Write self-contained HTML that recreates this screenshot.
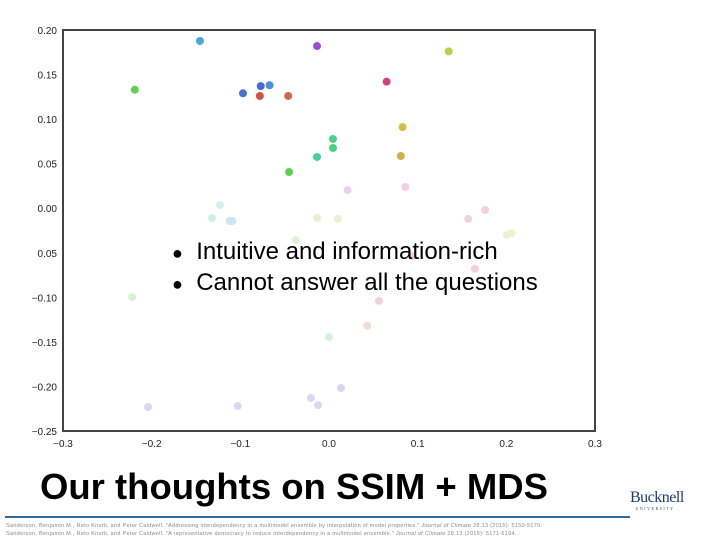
<!DOCTYPE html>
<html><head><meta charset="utf-8"><style>
body{margin:0;width:720px;height:540px;background:#fff;overflow:hidden;font-family:"Liberation Sans",sans-serif;position:relative}
.ref{position:absolute;left:6px;font-size:5.5px;color:#888;white-space:nowrap;letter-spacing:0.3px}
</style></head><body>
<svg id="chart" width="720" height="460" style="position:absolute;left:0;top:0" font-family="Liberation Sans, sans-serif"></svg>
<div style="position:absolute;left:172px;top:237px;font-size:24px;color:#000;line-height:29px;white-space:nowrap">
<div><span style="font-size:18px">●</span>&nbsp; Intuitive and information-rich</div>
<div><span style="font-size:18px">●</span>&nbsp; Cannot answer all the questions</div>
</div>
<div style="position:absolute;left:40px;top:466px;font-size:36.5px;font-weight:bold;color:#000;white-space:nowrap">Our thoughts on SSIM + MDS</div>
<div style="position:absolute;left:5px;top:516px;width:625px;height:2px;background:#2e6aa1"></div>
<div style="position:absolute;left:630px;top:490px;width:50px;text-align:center;color:#1d3c73;font-family:'Liberation Serif',serif">
<div style="font-size:16px;line-height:16px;letter-spacing:-0.5px">Bucknell</div><div style="font-size:4px;letter-spacing:1.5px">UNIVERSITY</div></div>
<div class="ref" style="top:523px">Sanderson, Benjamin M., Reto Knutti, and Peter Caldwell. "Addressing interdependency in a multimodel ensemble by interpolation of model properties." <i>Journal of Climate</i> 28.13 (2015): 5150-5170.</div>
<div class="ref" style="top:531px">Sanderson, Benjamin M., Reto Knutti, and Peter Caldwell. "A representative democracy to reduce interdependency in a multimodel ensemble." <i>Journal of Climate</i> 28.13 (2015): 5171-5194.</div>
<script>
const xVals=[-0.1455,-0.0135,0.135,-0.219,0.065,-0.097,-0.077,-0.067,-0.078,-0.046,0.0045,0.0045,-0.0135,-0.045,0.083,0.081,0.021,0.086,-0.123,-0.132,-0.112,-0.109,-0.0135,0.010,0.157,0.176,0.2007,0.206,-0.0373,0.094,0.1646,-0.222,0.0564,0.043,0.0,-0.204,-0.103,-0.0203,-0.0124,0.0135];
const yVals=[0.1877,0.182,0.176,0.133,0.142,0.129,0.137,0.138,0.126,0.126,0.0777,0.0676,0.0575,0.0406,0.091,0.0586,0.0204,0.0238,0.0036,-0.011,-0.0144,-0.0144,-0.011,-0.012,-0.012,-0.002,-0.030,-0.028,-0.0357,-0.0536,-0.068,-0.0997,-0.104,-0.132,-0.1445,-0.223,-0.222,-0.213,-0.221,-0.2018];
const colors=["#4fa3d6","#9b4fd0","#b8d050","#5fcf55","#d0417e","#4a72cf","#4a6ad0","#4f8fd8","#d05248","#d0674b","#4fd08a","#4fd07f","#48d0a0","#5cce50","#d0c04a","#d0b24a","#ecd0f0","#f2d0e2","#d2f0f0","#cdeef0","#cbe8f2","#cbe8f2","#e2f2d6","#eaf2d2","#f2d0e4","#f2d0e0","#f4ecd0","#f2f0d0","#dff2d6","#f0d0e6","#f2d0e0","#d6f2d6","#f2d0dc","#f4dad0","#d4f2dc","#dcd6f2","#dcd6f2","#dcd6f2","#dcd6f2","#d6d6f2"];
const xTicks=[-0.3,-0.2,-0.1,0.0,0.1,0.2,0.3];
const xLabels=["\u22120.3","\u22120.2","\u22120.1","0.0","0.1","0.2","0.3"];
const yTicks=[0.20,0.15,0.10,0.05,0.00,-0.05,-0.10,-0.15,-0.20,-0.25];
const yLabels=["0.20","0.15","0.10","0.05","0.00","0.05","\u22120.10","\u22120.15","\u22120.20","\u22120.25"];
const L=63,R=595,T=30,B=431,x0=-0.3,x1=0.3,y0=-0.25,y1=0.20;
const sx=v=>L+(v-x0)/(x1-x0)*(R-L), sy=v=>B-(v-y0)/(y1-y0)*(B-T);
const svg=document.getElementById('chart'),NS='http://www.w3.org/2000/svg';
function mk(t,a){const e=document.createElementNS(NS,t);for(const k in a)e.setAttribute(k,a[k]);svg.appendChild(e);return e;}
const frame=mk('rect',{x:L,y:T,width:R-L,height:B-T,fill:'#fff',stroke:'#444','stroke-width':2});


xTicks.forEach((v,i)=>{const t=mk('text',{x:sx(v),y:447,'font-size':10,'text-anchor':'middle',fill:'#222'});t.textContent=xLabels[i];

});
yTicks.forEach((v,i)=>{const t=mk('text',{x:57,y:sy(v)+4,'font-size':10,'text-anchor':'end',fill:'#222'});t.textContent=yLabels[i];

});
xVals.forEach((v,i)=>{const c=mk('circle',{cx:sx(v),cy:sy(yVals[i]),r:4,fill:colors[i]});

});
</script>
</body></html>
